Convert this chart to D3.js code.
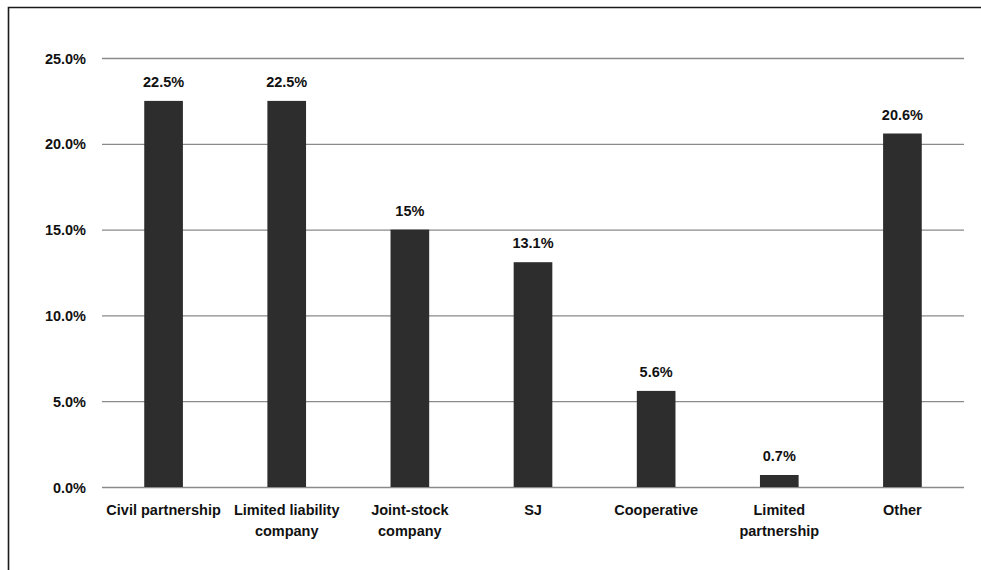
<!DOCTYPE html>
<html>
<head>
<meta charset="utf-8">
<script src="https://cdn.jsdelivr.net/npm/d3@7"></script>
<style>
  html, body { margin: 0; padding: 0; background: #fff; }
  svg { display: block; }
  text { font-family: "Liberation Sans", Arial, sans-serif; font-weight: bold; fill: #111; }
</style>
</head>
<body>
<svg id="chart" width="981" height="570"></svg>
<script>
// Share of organisations by legal form
const categories = [
  ["Civil partnership"],
  ["Limited liability", "company"],
  ["Joint-stock", "company"],
  ["SJ"],
  ["Cooperative"],
  ["Limited", "partnership"],
  ["Other"]
];
const values = [22.5, 22.5, 15, 13.1, 5.6, 0.7, 20.6];
const valueLabels = ["22.5%", "22.5%", "15%", "13.1%", "5.6%", "0.7%", "20.6%"];
const yTicks = [0, 5, 10, 15, 20, 25];

const svg = d3.select("#chart");
const W = 981, H = 570;
const margin = { left: 102, right: 17, top: 58, bottom: 83 };

// frame (left and top edges)
svg.append("path")
  .attr("d", `M8.5,${H} V7.5 H${W}`)
  .attr("fill", "none")
  .attr("stroke", "#1a1a1a")
  .attr("stroke-width", 1.6);

const x = d3.scaleBand()
  .domain(d3.range(categories.length))
  .range([margin.left, W - margin.right])
  .paddingInner(0.686)
  .paddingOuter(0.343);

const y = d3.scaleLinear()
  .domain([0, 25])
  .range([H - margin.bottom, margin.top]);

// gridlines + y labels via axis
const yAxis = d3.axisLeft(y)
  .tickValues(yTicks)
  .tickFormat(d => d.toFixed(1) + "%")
  .tickSize(-(W - margin.right - margin.left))
  .tickPadding(16);

const gy = svg.append("g")
  .attr("transform", `translate(${margin.left},0)`)
  .call(yAxis);
gy.select(".domain").remove();
gy.selectAll(".tick line").attr("stroke", "#8a8a8a").attr("stroke-width", 1.3);
gy.selectAll(".tick text")
  .attr("font-size", 14.5)
  .attr("font-family", "Liberation Sans, Arial, sans-serif")
  .attr("font-weight", "bold")
  .attr("fill", "#111")
  .attr("dy", "0.35em");

// bars
svg.append("g").selectAll("rect")
  .data(values)
  .join("rect")
  .attr("x", (d, i) => x(i))
  .attr("width", x.bandwidth())
  .attr("y", d => y(d))
  .attr("height", d => y(0) - y(d))
  .attr("fill", "#2d2d2d");

// value labels
svg.append("g").selectAll("text")
  .data(values)
  .join("text")
  .attr("x", (d, i) => x(i) + x.bandwidth() / 2)
  .attr("y", d => y(d) - 14)
  .attr("text-anchor", "middle")
  .attr("font-size", 14.5)
  .text((d, i) => valueLabels[i]);

// category labels
const cat = svg.append("g").selectAll("text")
  .data(categories)
  .join("text")
  .attr("x", (d, i) => x(i) + x.bandwidth() / 2)
  .attr("y", y(0) + 28)
  .attr("text-anchor", "middle")
  .attr("font-size", 14.5);
cat.selectAll("tspan")
  .data(d => d)
  .join("tspan")
  .attr("x", function () { return this.parentNode.getAttribute("x"); })
  .attr("dy", (d, j) => j === 0 ? 0 : 21)
  .text(d => d);
</script>
</body>
</html>
